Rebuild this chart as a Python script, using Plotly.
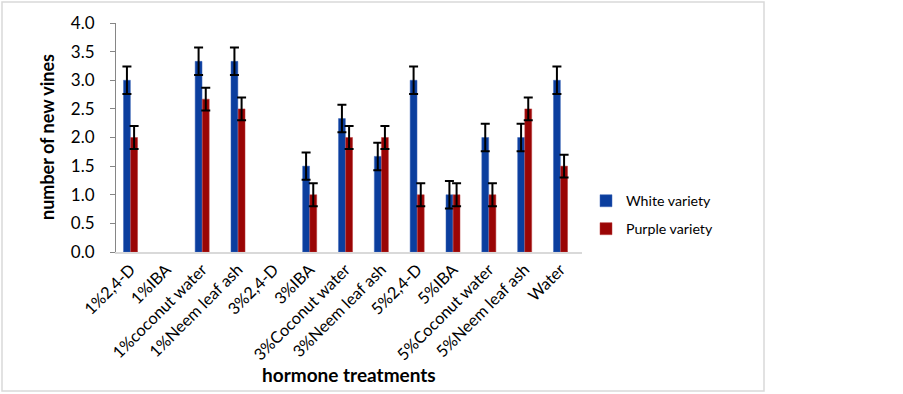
import plotly.graph_objects as go

categories = ["1%2,4-D", "1%IBA", "1%coconut water", "1%Neem leaf ash", "3%2,4-D",
              "3%IBA", "3%Coconut water", "3%Neem leaf ash", "5%2,4-D", "5%IBA",
              "5%Coconut water", "5%Neem leaf ash", "Water"]
white = [3.0, 0, 3.33, 3.33, 0, 1.5, 2.33, 1.67, 3.0, 1.0, 2.0, 2.0, 3.0]
purple = [2.0, 0, 2.67, 2.5, 0, 1.0, 2.0, 2.0, 1.0, 1.0, 1.0, 2.5, 1.5]
white_err = [0.24, None, 0.24, 0.24, None, 0.24, 0.24, 0.24, 0.24, 0.24, 0.24, 0.24, 0.24]
purple_err = [0.2, None, 0.2, 0.2, None, 0.2, 0.2, 0.2, 0.2, 0.2, 0.2, 0.2, 0.2]

FONT = "Lato"

def with_missing(vals, errs):
    y = [v if e is not None else None for v, e in zip(vals, errs)]
    e = [x if x is not None else 0 for x in errs]
    return y, e

wy, we = with_missing(white, white_err)
py, pe = with_missing(purple, purple_err)

fig = go.Figure()
fig.add_trace(go.Bar(
    x=list(range(len(categories))), y=wy, name="White variety",
    marker=dict(color="#0B3E9E", line=dict(color="#3E66B8", width=0.5)),
    error_y=dict(type="data", array=we, visible=True, color="#000000", thickness=2, width=4.5),
    legendgroup="w",
))
fig.add_trace(go.Bar(
    x=list(range(len(categories))), y=py, name="Purple variety",
    marker=dict(color="#9A0505", line=dict(color="#B83A3A", width=0.5)),
    error_y=dict(type="data", array=pe, visible=True, color="#000000", thickness=2, width=4.5),
    legendgroup="p",
))

L, R, T, B = 116, 582, 23, 252
W, H = 903, 394
pw, ph = R - L, B - T

def px_x(x):
    return (x - L) / pw

def px_y(y):
    return (B - y) / ph

fig.update_layout(
    width=W, height=H,
    margin=dict(l=L, r=W - R, t=T, b=H - B, pad=0),
    paper_bgcolor="white", plot_bgcolor="white",
    barmode="group", bargap=0.6, bargroupgap=0.04,
    font=dict(family=FONT, size=14, color="#000000"),
    showlegend=True,
    legend=dict(x=px_x(586), y=px_y(185), xanchor="left", yanchor="top",
                font=dict(family=FONT, size=14.2, color="#000000"),
                tracegroupgap=6.5, itemwidth=30, bgcolor="rgba(0,0,0,0)"),
    xaxis=dict(
        tickmode="array", tickvals=list(range(len(categories))), ticktext=categories,
        range=[-0.405, 12.6], tickangle=-45, showgrid=False, ticks="",
        showline=True, linecolor="#D9D9D9", linewidth=1.5, zeroline=False,
        tickfont=dict(family=FONT, size=16.3),
    ),
    yaxis=dict(
        range=[0, 4], dtick=0.5, tickformat=".1f", showgrid=False,
        ticks="outside", ticklen=5, tickcolor="#868686", showline=True,
        linecolor="#868686", linewidth=1, zeroline=False,
        tickfont=dict(family=FONT, size=17), ticklabelstandoff=12,
    ),
    shapes=[dict(type="rect", xref="paper", yref="paper",
                 x0=px_x(2), x1=px_x(764), y0=px_y(391), y1=px_y(2),
                 line=dict(color="#D9D9D9", width=1.5), fillcolor="rgba(0,0,0,0)",
                 layer="below")],
    annotations=[
        dict(text="<b>number of new vines</b>", xref="paper", yref="paper",
             x=px_x(47), y=px_y(137), xanchor="center", yanchor="middle",
             textangle=-90, showarrow=False,
             font=dict(family=FONT, size=18)),
        dict(text="<b>hormone treatments</b>", xref="paper", yref="paper",
             x=px_x(349), y=px_y(374), xanchor="center", yanchor="middle",
             showarrow=False, font=dict(family=FONT, size=19)),
    ],
)

fig.write_html("out.html", config={"displayModeBar": False},
               post_script="document.body.style.margin='0';document.body.style.padding='0';")
